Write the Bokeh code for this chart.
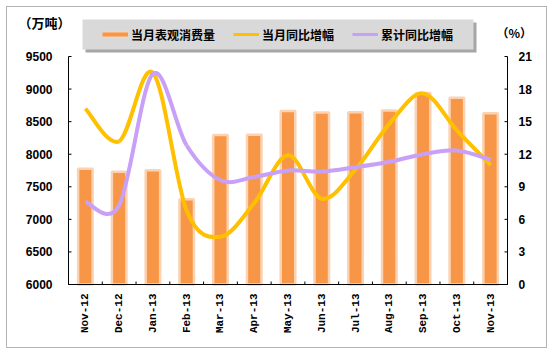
import math
from bokeh.plotting import figure
from bokeh.models import (Range1d, Legend, LegendItem, Label, BoxAnnotation, ColumnDataSource)
from bokeh.core.properties import value
from bokeh.embed import file_html
from bokeh.resources import INLINE

# ---- data ----
months = ["Nov-12", "Dec-12", "Jan-13", "Feb-13", "Mar-13", "Apr-13", "May-13",
          "Jun-13", "Jul-13", "Aug-13", "Sep-13", "Oct-13", "Nov-13"]
consumption = [7775, 7730, 7755, 7310, 8295, 8300, 8665, 8640, 8645, 8670, 8940, 8865, 8630]
monthly_yoy = [16.2, 13.2, 19.5, 6.8, 4.4, 7.5, 11.9, 7.9, 10.6, 14.8, 17.6, 14.2, 11.0]
cumulative_yoy = [7.6, 7.3, 19.4, 12.8, 9.6, 9.9, 10.5, 10.4, 10.8, 11.3, 12.0, 12.35, 11.5]

left_ticks = [6000, 6500, 7000, 7500, 8000, 8500, 9000, 9500]
right_ticks = [0, 3, 6, 9, 12, 15, 18, 21]

legend_labels = ["当月表观消费量", "当月同比增幅", "累计同比增幅"]
left_unit = "（万吨）"
right_unit = "（%）"

# ---- layout constants (canvas pixels) ----
W, H = 552, 352
FL, FR, FT, FB = 68, 507, 56, 284  # plot-area edges

ORANGE = "#F79646"
ORANGE_EDGE = "#FBD3B3"
YELLOW = "#FFC000"
PURPLE = "#C8A0F8"

n = len(months)
xs = [i + 0.5 for i in range(n)]


# ranges chosen so that the plot area sits at the canvas pixels above, while the
# frame covers the whole canvas (so annotations outside the plot area are not clipped)
def span(lo, hi, p_lo, p_hi, total):
    k = (hi - lo) / (p_hi - p_lo)
    return lo - p_lo * k, hi + (total - p_hi) * k


x0r, x1r = span(0, n, FL, FR, W)
yl0, yl1 = span(left_ticks[0], left_ticks[-1], H - FB, H - FT, H)
yr0, yr1 = span(right_ticks[0], right_ticks[-1], H - FB, H - FT, H)

p = figure(width=W, height=H, x_range=Range1d(x0r, x1r), y_range=Range1d(yl0, yl1),
           output_backend="svg", toolbar_location=None,
           x_axis_location=None, y_axis_location=None,
           min_border=0)
p.extra_y_ranges = {"right": Range1d(yr0, yr1)}
p.xgrid.visible = False
p.ygrid.visible = False
p.outline_line_color = None
p.background_fill_color = "white"
p.border_fill_color = "white"


def sx(x):
    return x


def sy(y):
    return H - y


# outer border
p.add_layout(BoxAnnotation(left=sx(6), right=sx(546), top=sy(6), bottom=sy(347),
                           left_units="screen", right_units="screen",
                           top_units="screen", bottom_units="screen",
                           fill_alpha=0, line_color="black", line_width=1,
                           level="underlay"))

# bars
src = ColumnDataSource(dict(x=xs, top=consumption))
p.vbar(x="x", top="top", bottom=left_ticks[0], width=0.43, source=src,
       fill_color=ORANGE, line_color=ORANGE_EDGE, line_width=2.5)


def smooth_segments(xv, yv):
    m = len(xv)
    d = dict(x0=[], y0=[], x1=[], y1=[], cx0=[], cy0=[], cx1=[], cy1=[])
    for i in range(m - 1):
        im1 = max(i - 1, 0)
        ip2 = min(i + 2, m - 1)
        d["x0"].append(xv[i]); d["y0"].append(yv[i])
        d["x1"].append(xv[i + 1]); d["y1"].append(yv[i + 1])
        d["cx0"].append(xv[i] + (xv[i + 1] - xv[im1]) / 6.0)
        d["cy0"].append(yv[i] + (yv[i + 1] - yv[im1]) / 6.0)
        d["cx1"].append(xv[i + 1] - (xv[ip2] - xv[i]) / 6.0)
        d["cy1"].append(yv[i + 1] - (yv[ip2] - yv[i]) / 6.0)
    return d


for series, col in ((monthly_yoy, YELLOW), (cumulative_yoy, PURPLE)):
    s = ColumnDataSource(smooth_segments(xs, series))
    p.bezier(x0="x0", y0="y0", x1="x1", y1="y1", cx0="cx0", cy0="cy0",
             cx1="cx1", cy1="cy1", source=s, line_color=col, line_width=4,
             y_range_name="right")

# ---- axes drawn through the scales ----
AX = dict(line_color="black", line_width=1)
p.segment(x0=[0], y0=[left_ticks[0]], x1=[0], y1=[left_ticks[-1]], **AX)
p.segment(x0=[0], y0=[left_ticks[0]], x1=[n], y1=[left_ticks[0]], **AX)
p.segment(x0=[n], y0=[right_ticks[0]], x1=[n], y1=[right_ticks[-1]],
          y_range_name="right", **AX)
p.ray(x=[0] * len(left_ticks), y=left_ticks, length=3, length_units="screen",
      angle=0, **AX)
p.ray(x=[n] * len(right_ticks), y=right_ticks, length=3, length_units="screen",
      angle=math.pi, y_range_name="right", **AX)
p.ray(x=list(range(n + 1)), y=[left_ticks[0]] * (n + 1), length=3,
      length_units="screen", angle=math.pi / 2, **AX)

TICK_FONT = value("Liberation Sans")
p.text(x=[0] * len(left_ticks), y=left_ticks, text=[str(t) for t in left_ticks],
       x_offset=-16, text_align="right", text_baseline="middle",
       text_font=TICK_FONT, text_font_style="bold", text_font_size="12px",
       text_color="black")
p.text(x=[n] * len(right_ticks), y=right_ticks, text=[str(t) for t in right_ticks],
       x_offset=11, text_align="left", text_baseline="middle",
       text_font=TICK_FONT, text_font_style="bold", text_font_size="12px",
       text_color="black", y_range_name="right")
p.text(x=xs, y=[left_ticks[0]] * n, text=months, angle=math.pi / 2,
       y_offset=9, text_align="right", text_baseline="middle",
       text_font=value("Liberation Mono"), text_font_style="bold",
       text_font_size="11px", text_color="black")

# legend box with shadow
p.add_layout(BoxAnnotation(left=sx(85), right=sx(476), top=sy(22), bottom=sy(52),
                           left_units="screen", right_units="screen",
                           top_units="screen", bottom_units="screen",
                           fill_color="#A6A6A6", fill_alpha=1, line_alpha=0))
p.add_layout(BoxAnnotation(left=sx(82), right=sx(473), top=sy(19), bottom=sy(49),
                           left_units="screen", right_units="screen",
                           top_units="screen", bottom_units="screen",
                           fill_color="#D9D9D9", fill_alpha=1, line_alpha=0))

# legend sample renderers (one NaN point: nothing drawn in the plot)
nan = [math.nan]
leg_bar_edge = p.line(x=nan, y=nan, line_color=ORANGE_EDGE, line_width=7)
leg_bar = p.line(x=nan, y=nan, line_color=ORANGE, line_width=4)
leg_y = p.line(x=nan, y=nan, line_color=YELLOW, line_width=3)
leg_p = p.line(x=nan, y=nan, line_color=PURPLE, line_width=3)

legend = Legend(items=[LegendItem(label=legend_labels[0], renderers=[leg_bar_edge, leg_bar]),
                       LegendItem(label=legend_labels[1], renderers=[leg_y]),
                       LegendItem(label=legend_labels[2], renderers=[leg_p])],
                orientation="horizontal", location=(sx(98), sy(47)),
                padding=4, spacing=18, margin=0,
                glyph_width=26, glyph_height=18, label_height=18, label_standoff=3,
                label_text_font="Noto Sans CJK SC", label_text_font_style="bold",
                label_text_font_size="12px", label_text_color="black",
                background_fill_alpha=0, border_line_alpha=0)
p.add_layout(legend, "center")

# unit labels
p.add_layout(Label(x=sx(18), y=sy(22), x_units="screen", y_units="screen",
                   text=left_unit, text_font="Noto Sans CJK SC", text_font_style="bold",
                   text_font_size="13px", text_baseline="middle", text_align="left",
                   text_color="black"))
p.add_layout(Label(x=sx(496), y=sy(32), x_units="screen", y_units="screen",
                   text=right_unit, text_font="Noto Sans CJK SC", text_font_style="bold",
                   text_font_size="12px", text_baseline="middle", text_align="left",
                   text_color="black"))

open("out.html", "w").write(file_html(p, INLINE))
